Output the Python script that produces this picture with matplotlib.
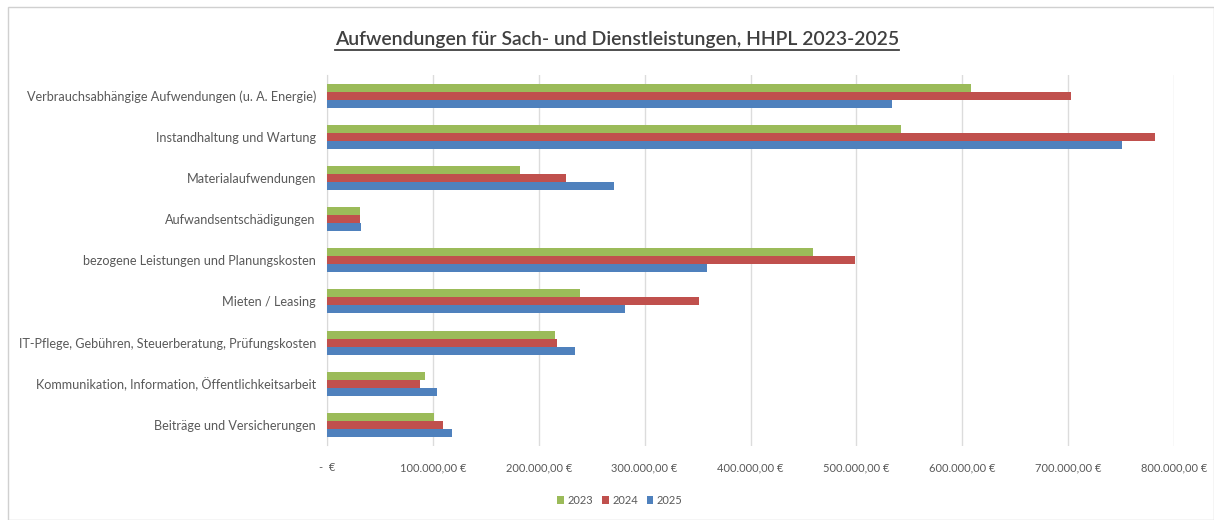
import matplotlib
matplotlib.use("Agg")
import matplotlib.pyplot as plt
from matplotlib.patches import Rectangle
from matplotlib.lines import Line2D
import numpy as np

categories = [
    "Verbrauchsabhängige Aufwendungen (u. A. Energie)",
    "Instandhaltung und Wartung",
    "Materialaufwendungen",
    "Aufwandsentschädigungen",
    "bezogene Leistungen und Planungskosten",
    "Mieten / Leasing",
    "IT-Pflege, Gebühren, Steuerberatung, Prüfungskosten",
    "Kommunikation, Information, Öffentlichkeitsarbeit",
    "Beiträge und Versicherungen",
]
years = ["2023", "2024", "2025"]
values_2023 = [608000, 542000, 182000, 31000, 459000, 239000, 215000, 93000, 101000]
values_2024 = [703000, 782000, 226000, 31000, 499000, 351000, 217000, 88000, 110000]
values_2025 = [534000, 751000, 271000, 32000, 359000, 281000, 234000, 104000, 118000]
x_ticks = [0, 100000, 200000, 300000, 400000, 500000, 600000, 700000, 800000]
title = "Aufwendungen für Sach- und Dienstleistungen, HHPL 2023-2025"

colors = ["#9BBB59", "#C0504D", "#4F81BD"]
FONT = ["Lato", "DejaVu Sans"]


def euro(v):
    if v == 0:
        return "-  €"
    s = f"{v:,.2f}".replace(",", "X").replace(".", ",").replace("X", ".")
    return s + " €"


W, H = 1214, 520
fig = plt.figure(figsize=(W / 100, H / 100), dpi=100)
fig.patch.set_facecolor("white")
renderer = fig.canvas.get_renderer()


def fit_size(text, target_px, base=10.0, **kw):
    probe = fig.text(0, 0, text, family=FONT, fontsize=base, **kw)
    w = probe.get_window_extent(renderer=renderer).width
    probe.remove()
    return base * target_px / w


# outer chart frame
fig.patches.append(Rectangle((8 / W, 0), (W - 8) / W, (H - 7) / H,
                             transform=fig.transFigure, fill=False,
                             edgecolor="#D0D0D0", linewidth=1.0))

ax_left, ax_right = 327 / W, 1174 / W
ax_top, ax_bottom = 1 - 75 / H, 1 - 445.5 / H
ax = fig.add_axes([ax_left, ax_bottom, ax_right - ax_left, ax_top - ax_bottom])

n = len(categories)
pos = np.arange(n)
bh = 0.195
series = [values_2023, values_2024, values_2025]
for i, (vals, col, yr) in enumerate(zip(series, colors, years)):
    ax.barh(pos + (i - 1) * bh, vals, height=bh, color=col, label=yr, zorder=3)

ylab_size = fit_size(categories[0], 288)
xlab_size = fit_size("100.000,00 €", 66)

ax.set_ylim(n - 0.5, -0.5)
ax.set_xlim(0, 800000)
ax.set_yticks(pos)
ax.set_yticklabels(categories, family=FONT, fontsize=ylab_size, color="#595959")
ax.set_xticks(x_ticks)
ax.set_xticklabels([euro(v) for v in x_ticks], family=FONT, fontsize=xlab_size,
                   color="#595959")
ax.tick_params(axis="y", length=0, pad=8)
ax.tick_params(axis="x", length=0, pad=12)
ax.grid(axis="x", color="#DCDCDC", linewidth=1.0, zorder=0)
for s in ["top", "right", "bottom"]:
    ax.spines[s].set_visible(False)
ax.spines["left"].set_color("#D9D9D9")

# title with underline
title_size = fit_size(title, 564, weight="semibold")
t = fig.text(617 / W, 1 - 40 / H, title, ha="center", va="center",
             family=FONT, fontsize=title_size, weight="semibold", color="#404040")
fig.canvas.draw()
bb = t.get_window_extent(renderer=renderer)
y_ul = (bb.y0 - 1) / H
fig.add_artist(Line2D([bb.x0 / W, bb.x1 / W], [y_ul, y_ul],
                      transform=fig.transFigure, color="#404040", linewidth=1.3))

leg = fig.legend(loc="center", bbox_to_anchor=(620 / W, 1 - 500 / H), ncol=3,
                 frameon=False, prop={"family": FONT, "size": xlab_size},
                 handlelength=0.6, handleheight=0.7, handletextpad=0.3,
                 columnspacing=0.8)
for txt in leg.get_texts():
    txt.set_color("#595959")

fig.savefig("out.png", dpi=100, facecolor="white")
